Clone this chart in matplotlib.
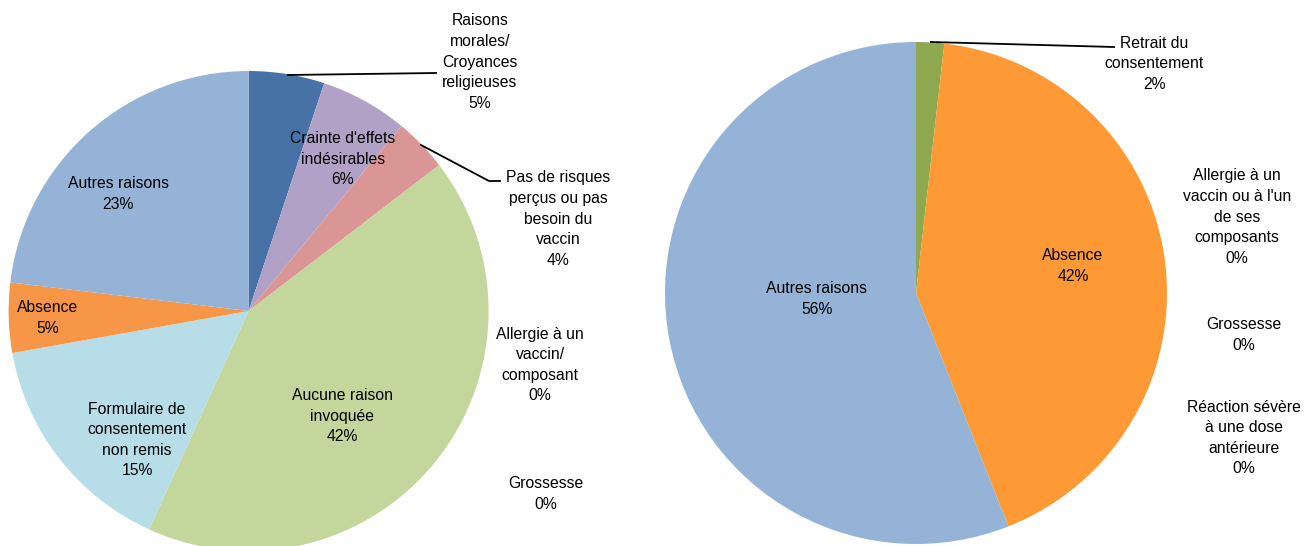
import matplotlib
matplotlib.use("Agg")
import matplotlib.pyplot as plt

# left chart
left_labels = ["Raisons\nmorales/\nCroyances\nreligieuses", "Crainte d'effets\nindésirables",
               "Pas de risques\nperçus ou pas\nbesoin du\nvaccin", "Allergie à un\nvaccin/\ncomposant",
               "Grossesse", "Aucune raison\ninvoquée", "Formulaire de\nconsentement\nnon remis",
               "Absence", "Autres raisons"]
left_values = [5.1, 5.9, 3.6, 0, 0, 42.2, 15.4, 4.7, 23.1]
left_colors = ["#4672a6", "#b2a1c7", "#d99694", "#8064a2", "#4bacc6", "#c3d69b", "#b7dee8",
               "#f79646", "#95b3d7"]

# right chart
right_labels = ["Retrait du\nconsentement", "Allergie à un\nvaccin ou à l'un\nde ses\ncomposants",
                "Grossesse", "Réaction sévère\nà une dose\nantérieure", "Absence", "Autres raisons"]
right_values = [1.8, 0, 0, 0, 42.2, 56.0]
right_colors = ["#8ea84f", "#4bacc6", "#8064a2", "#c0504d", "#fd9a35", "#95b3d7"]

W, H = 1308, 546
plt.rcParams['font.family'] = ['Liberation Sans Narrow', 'Liberation Sans', 'DejaVu Sans']

fig = plt.figure(figsize=(W / 100, H / 100), dpi=100)
ax = fig.add_axes([0, 0, 1, 1])


def py(y):
    # picture rows counted from the top
    return H - y


def draw_pie(values, colors, labels, center, radius, label_pos, leaders):
    ax.pie(values, colors=colors, startangle=90, counterclock=False,
           center=(center[0], py(center[1])), radius=radius,
           wedgeprops=dict(linewidth=0), frame=True)
    for v, lab, (x, y) in zip(values, labels, label_pos):
        ax.text(x, py(y), f"{lab}\n{round(v):.0f}%", ha='center', va='center',
                fontsize=11.3, linespacing=1.47, color='black')
    for pts in leaders:
        ax.plot([p[0] for p in pts], [py(p[1]) for p in pts], color='black', lw=1.3)


draw_pie(left_values, left_colors, left_labels, (248.6, 311), 240,
         [(480, 62), (343, 159), (558, 219), (540, 365), (546, 494),
          (342, 416), (137, 440), (48, 318), (118, 194)],
         [[(288, 75), (436, 73)], [(421, 145), (489, 181), (500, 181)]])

draw_pie(right_values, right_colors, right_labels, (916, 293), 251,
         [(1154, 64), (1237, 217), (1244, 335), (1244, 438), (1073, 266), (817, 299)],
         [[(931, 42), (1114, 47)]])

ax.set_xlim(0, W)
ax.set_ylim(0, H)
ax.set_aspect('equal')
ax.axis('off')

fig.savefig("out.png", dpi=100)
